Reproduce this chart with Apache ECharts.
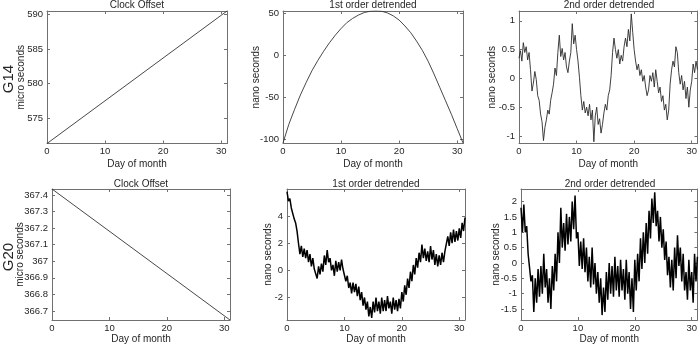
<!DOCTYPE html>
<html><head><meta charset="utf-8">
<script src="https://cdn.jsdelivr.net/npm/echarts@6/dist/echarts.min.js"></script>
<style>html,body{margin:0;padding:0;background:#fff}#c{width:700px;height:345px}</style>
</head><body><div id="c"></div>
<script>
// ---------- DATA ----------
const rowLabels = ['G14', 'G20'];
const panelTitles = ['Clock Offset', '1st order detrended', '2nd order detrended'];
const xLabel = 'Day of month';
const yLabels = ['micro seconds', 'nano seconds', 'nano seconds'];
const xTicks = [0, 10, 20, 30];
const dayEnds = [0, 31];
const days = [0,1,2,3,4,5,6,7,8,9,10,11,12,13,14,15,16,17,18,19,20,21,22,23,24,25,26,27,28,29,30,31];
const STEP = 0.25; // sampling step (days) of the noisy series

const g14Offset = [571.3, 590.5];
const g14Det1 = [-104,-82,-64,-47,-32,-18,-6,5,15,24,32,39,44,48,51,52.5,53,52.5,50.5,47,42,35,27,17,6,-7,-22,-38,-54,-70,-87,-104];
const g14Det2 = [
  0.35,0.48,0.30,0.62, 0.45,0.55,0.32,0.45, 0.15,-0.22,-0.08,0.12, -0.02,-0.30,-0.38,-0.62,
  -0.75,-1.08,-0.85,-0.72, -0.55,-0.62,-0.38,-0.25, -0.10,0.18,0.05,0.45, 0.75,0.38,0.52,0.32,
  0.45,0.20,0.10,0.30, 0.45,0.95,0.60,0.75, 0.50,0.30,0.02,-0.30, -0.55,-0.40,-0.60,-0.50,
  -0.65,-0.45,-0.72,-0.55, -1.10,-0.65,-0.50,-0.80, -0.70,-0.95,-0.80,-0.60, -0.45,-0.55,-0.30,-0.20,
  0.05,0.45,0.70,0.50, 0.35,0.50,0.25,0.40, 0.30,0.55,0.70,0.55, 0.85,0.65,1.12,0.80,
  0.50,0.30,0.15,0.25, 0.05,0.15,-0.05,0.05, -0.15,-0.30,-0.20,0.05, -0.05,0.10,-0.15,0.15,
  -0.05,-0.25,-0.15,-0.40, -0.30,-0.55,-0.45,-0.72, -0.55,-0.10,0.15,0.30, 0.20,0.55,0.45,0.10,
  -0.10,0.05,-0.20,-0.05, -0.35,-0.15,-0.50,-0.20, -0.05,0.25,0.10,0.30, 0.15
];

const g20Offset = [367.436, 366.645];
const g20Det1 = [
  5.8,5.1,5.3,4.6, 4.5,3.8,3.5,2.9, 2.0,1.2,1.8,1.0, 1.6,0.9,1.5,0.6,
  1.2,0.3,0.9,0.1, 0.2,-0.6,0.3,-0.3, 0.5,-0.1,1.1,0.4, 1.5,0.6,0.9,0.0,
  0.4,-0.4,0.7,-0.1, 0.6,0.0,0.8,0.1, 0.2,-0.8,-0.4,-1.3, -0.9,-1.7,-0.9,-1.6,
  -1.0,-1.9,-1.2,-2.2, -1.6,-2.6,-2.0,-2.9, -2.3,-3.4,-2.7,-3.5, -2.3,-3.1,-2.0,-3.0,
  -2.3,-3.2,-2.0,-3.0, -2.2,-3.0,-1.9,-2.8, -2.3,-3.2,-2.0,-2.9, -2.2,-3.0,-2.1,-2.8,
  -1.6,-2.3,-1.1,-1.8, -0.6,-1.3,-0.1,-0.8, 0.4,-0.3,0.9,0.2, 1.3,0.6,1.9,0.9,
  1.6,0.7,1.4,0.6, 1.8,0.8,1.5,0.4, 1.2,0.3,1.1,0.4, 1.3,0.6,1.4,1.5,
  2.5,1.8,2.8,2.0, 3.0,2.1,2.9,2.2, 3.1,2.4,3.5,2.9, 3.9
];
const g20Det2 = [
  1.8,1.0,1.9,1.0, 1.2,0.3,0.3,-0.6, -0.4,-1.6,-0.5,-1.3, -0.2,-1.1,-0.1,-1.0,
  0.3,-0.8,-0.2,-1.3, -0.5,-1.5,-0.1,-0.9, 0.3,-0.6,1.0,0.0, 1.8,0.5,1.3,0.4,
  1.6,0.6,1.5,0.7, 2.0,1.1,2.2,0.8, 1.0,-0.1,0.7,-0.2, 0.8,-0.3,0.5,-0.6,
  0.2,-0.8,0.5,-0.7, 0.0,-1.0,-0.3,-1.3, -0.5,-1.7,-0.8,-1.6, -0.3,-1.2,0.0,-1.0,
  -0.1,-1.1,0.2,-0.9, -0.1,-1.1,0.1,-0.9, -0.2,-1.2,0.1,-1.0, -0.3,-1.5,-0.5,-1.6,
  0.1,-0.9,0.3,-0.6, 0.8,-0.2,1.0,0.0, 1.3,0.3,1.7,0.8, 2.1,1.3,2.3,1.2,
  1.7,0.7,1.5,0.5, 1.1,0.1,0.7,-0.4, 0.2,-0.8,0.1,-0.9, 0.5,-0.5,0.9,-0.1,
  0.5,-0.6,0.3,-0.9, -0.3,-1.2,0.1,-0.9, -0.3,-1.3,0.3,-0.6, 0.2
];

const yTicksList = [
  [575, 580, 585, 590],
  [-100, -50, 0, 50],
  [-1, -0.5, 0, 0.5, 1],
  [366.7, 366.8, 366.9, 367, 367.1, 367.2, 367.3, 367.4],
  [-2, 0, 2, 4],
  [-1.5, -1, -0.5, 0, 0.5, 1, 1.5, 2]
];
const yRanges = [
  [571.3, 590.5], [-104.7, 52.8], [-1.13, 1.17],
  [366.645, 367.436], [-3.66, 6.0], [-1.86, 2.41]
];

// ---------- BUILD ----------
const FONT = "'Liberation Sans', Arial, Helvetica, sans-serif";
const TXT = '#262626';
const AX = '#707070';

function pairs(xs, ys) { return ys.map((v, i) => [xs[i], v]); }
function fine(ys) { return pairs(ys.map((_, i) => i * STEP), ys); }

const seriesData = [
  pairs(dayEnds, g14Offset), pairs(days, g14Det1), fine(g14Det2),
  pairs(dayEnds, g20Offset), fine(g20Det1), fine(g20Det2)
];
const lineStyles = [
  { color: '#333', width: 0.9 }, { color: '#333', width: 0.9 }, { color: '#2a2a2a', width: 0.9 },
  { color: '#333', width: 0.9 }, { color: '#000', width: 1.5 }, { color: '#000', width: 1.5 }
];

const grids = [
  { left: 47, top: 11, width: 180, height: 132.5 },
  { left: 283, top: 11, width: 180, height: 132.5 },
  { left: 519, top: 11, width: 180, height: 132.5 },
  { left: 52, top: 189, width: 178, height: 132 },
  { left: 287, top: 189, width: 178, height: 132 },
  { left: 521, top: 189, width: 178, height: 132 }
];
const yNameGaps = [20.5, 21.5, 21.5, 27, 13.5, 19.5];

const textStyle = { color: TXT, fontSize: 10, fontFamily: FONT };
const tickText = { color: TXT, fontSize: 9.5, fontFamily: FONT };
const xAxis = [], yAxis = [], series = [], title = [];
grids.forEach((g, i) => {
  const yt = yTicksList[i];
  const line = { show: true, onZero: false, lineStyle: { color: AX, width: 1 } };
  xAxis.push({
    gridIndex: i, type: 'value', min: 0, max: 31, position: 'bottom',
    axisLine: line,
    axisTick: { show: true, inside: true, length: 3, customValues: xTicks, lineStyle: { color: AX } },
    axisLabel: { customValues: xTicks, margin: 3, ...tickText },
    splitLine: { show: false },
    name: xLabel, nameLocation: 'middle', nameGap: i < 3 ? 16 : 14, nameMoveOverlap: false,
    nameTextStyle: textStyle
  });
  xAxis.push({
    gridIndex: i, type: 'value', min: 0, max: 31, position: 'top',
    axisLine: line,
    axisTick: { show: true, inside: true, length: 3, customValues: xTicks, lineStyle: { color: AX } },
    axisLabel: { show: false }, splitLine: { show: false }
  });
  yAxis.push({
    gridIndex: i, type: 'value', min: yRanges[i][0], max: yRanges[i][1], position: 'left',
    axisLine: line,
    axisTick: { show: true, inside: true, length: 3, customValues: yt, lineStyle: { color: AX } },
    axisLabel: { customValues: yt, margin: 4, ...tickText },
    splitLine: { show: false },
    name: yLabels[i % 3], nameLocation: 'middle', nameGap: yNameGaps[i], nameMoveOverlap: false,
    nameTextStyle: textStyle
  });
  yAxis.push({
    gridIndex: i, type: 'value', min: yRanges[i][0], max: yRanges[i][1], position: 'right',
    axisLine: line,
    axisTick: { show: true, inside: true, length: 3, customValues: yt, lineStyle: { color: AX } },
    axisLabel: { show: false }, splitLine: { show: false }
  });
  series.push({
    type: 'line', xAxisIndex: 2 * i, yAxisIndex: 2 * i, data: seriesData[i],
    showSymbol: false, symbol: 'none', lineStyle: lineStyles[i], silent: true, clip: true
  });
  title.push({
    text: panelTitles[i % 3], left: g.left + g.width / 2, top: i < 3 ? 0 : 179,
    textAlign: 'center', padding: 0,
    textStyle: { ...textStyle, fontWeight: 'normal' }
  });
});

const chart = echarts.init(document.getElementById('c'));
chart.setOption({
  animation: false,
  backgroundColor: '#fff',
  title,
  grid: grids.map(g => ({ ...g, show: false, containLabel: false })),
  xAxis, yAxis, series,
  graphic: rowLabels.map((t, r) => ({
    type: 'text', x: 9, y: r === 0 ? 79 : 257, rotation: Math.PI / 2,
    style: { text: t, fontSize: 15, fontFamily: FONT, fill: TXT, align: 'center', verticalAlign: 'middle' }
  }))
});
</script>
</body></html>
